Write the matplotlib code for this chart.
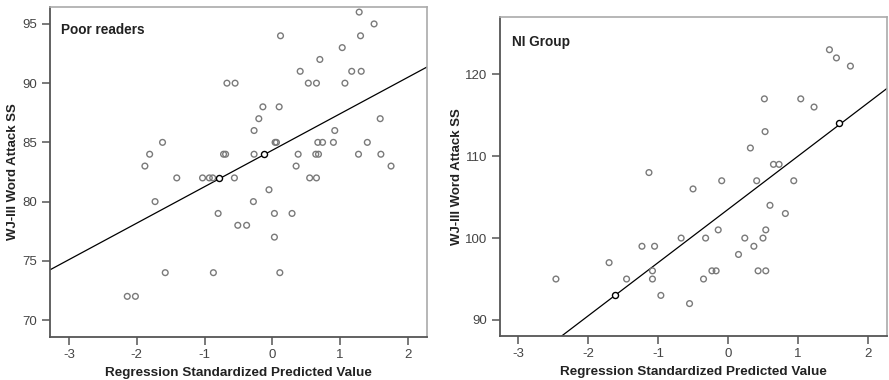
import matplotlib
matplotlib.use("Agg")
import matplotlib.pyplot as plt

plt.rcParams["font.family"] = ["Liberation Sans", "DejaVu Sans"]

# Poor readers: standardized predicted value vs WJ-III Word Attack SS
poor_x = [1.28, 1.50, 0.12, 1.30, 1.03, 0.70, 0.41, 1.17, 1.31,
          -0.67, -0.55, 0.53, 0.65, 1.07, -0.14, 0.10, -0.20, 1.59,
          -0.27, 0.92, -1.62, 0.04, 0.06, 0.67, 0.74, 0.90, 1.40,
          -1.81, -0.72, -0.69, -0.27, 0.38, 0.64, 0.68, 1.27, 1.60,
          -1.88, 0.35, 1.75, -1.41, -1.03, -0.93, -0.88, -0.56, 0.55, 0.65,
          -0.05, -1.73, -0.28, -0.80, 0.03, 0.29, -0.51, -0.38, 0.03,
          -1.58, -0.87, 0.11, -2.14, -2.02]
poor_y = [96, 95, 94, 94, 93, 92, 91, 91, 91,
          90, 90, 90, 90, 90, 88, 88, 87, 87,
          86, 86, 85, 85, 85, 85, 85, 85, 85,
          84, 84, 84, 84, 84, 84, 84, 84, 84,
          83, 83, 83, 82, 82, 82, 82, 82, 82, 82,
          81, 80, 80, 79, 79, 79, 78, 78, 77,
          74, 74, 74, 72, 72]
poor_hl_x = [-0.78, -0.13]
poor_hl_y = [82, 84]
poor_fit = (84.34, 3.08)   # intercept, slope

# NI group
ni_x = [1.45, 1.55, 1.75, 0.52, 1.04, 1.23, 0.53, 0.32, 0.65, 0.73,
        -1.13, -0.09, 0.41, 0.94, -0.50, 0.60, 0.82, -0.14, 0.54,
        -0.67, -0.32, 0.24, 0.50, -1.23, -1.05, 0.37, 0.15, -1.70,
        -1.08, -0.23, -0.17, 0.43, 0.54, -2.46, -1.45, -1.08, -0.35,
        -0.96, -0.55]
ni_y = [123, 122, 121, 117, 117, 116, 113, 111, 109, 109,
        108, 107, 107, 107, 106, 104, 103, 101, 101,
        100, 100, 100, 100, 99, 99, 99, 98, 97,
        96, 96, 96, 96, 96, 95, 95, 95, 95,
        93, 92]
ni_hl_x = [-1.62, 1.58]
ni_hl_y = [93, 114]
ni_fit = (103.5, 6.5)

XTICKS = [-3, -2, -1, 0, 1, 2]
XTICKLABELS = ["-3", "-2", "-1", "0", "1", "2"]
XLABEL = "Regression Standardized Predicted Value"
YLABEL = "WJ-III Word Attack SS"

fig = plt.figure(figsize=(8.89, 3.80), dpi=100)
ax1 = fig.add_axes([0.0562, 0.1132, 0.4241, 0.8684])
ax2 = fig.add_axes([0.5624, 0.1166, 0.4359, 0.8379])


def panel(ax, x, y, hx, hy, fit, xlim, ylim, yticks, title, ylab_x, title_y):
    ax.scatter(x, y, s=17, facecolors="none", edgecolors="#7a7a7a", linewidths=1.0, zorder=3)
    ax.scatter(hx, hy, s=19, facecolors="white", edgecolors="black", linewidths=1.0, zorder=4)
    ax.axline((0, fit[0]), slope=fit[1], color="black", lw=0.9, zorder=2)
    ax.set_xlim(*xlim); ax.set_ylim(*ylim)
    ax.set_xticks(XTICKS); ax.set_xticklabels(XTICKLABELS)
    ax.set_yticks(yticks)
    ax.tick_params(length=6, width=1.1, color="#555555", labelsize=9.5, labelcolor="#444444", pad=3)
    for s in ("left", "bottom"):
        ax.spines[s].set_color("#555555"); ax.spines[s].set_linewidth(1.3)
    for s in ("top", "right"):
        ax.spines[s].set_color("#aaaaaa"); ax.spines[s].set_linewidth(1.2)
    ax.set_xlabel(XLABEL, fontsize=9.7, fontweight="bold", color="#222222", labelpad=4)
    ax.set_ylabel(YLABEL, fontsize=9.5, fontweight="bold", color="#222222")
    ax.yaxis.set_label_coords(ylab_x, 0.5)
    ax.text(0.03, title_y, title, transform=ax.transAxes, fontsize=9.8,
            fontweight="bold", color="#222222", va="center", ha="left")


panel(ax1, poor_x, poor_y, poor_hl_x, poor_hl_y, poor_fit,
      (-3.28, 2.28), (68.57, 96.43), range(70, 96, 5), "Poor readers", -0.082, 0.93)
panel(ax2, ni_x, ni_y, ni_hl_x, ni_hl_y, ni_fit,
      (-3.26, 2.28), (88.08, 126.96), [90, 100, 110, 120], "NI Group", -0.095, 0.922)

fig.savefig("out.png", dpi=100)
